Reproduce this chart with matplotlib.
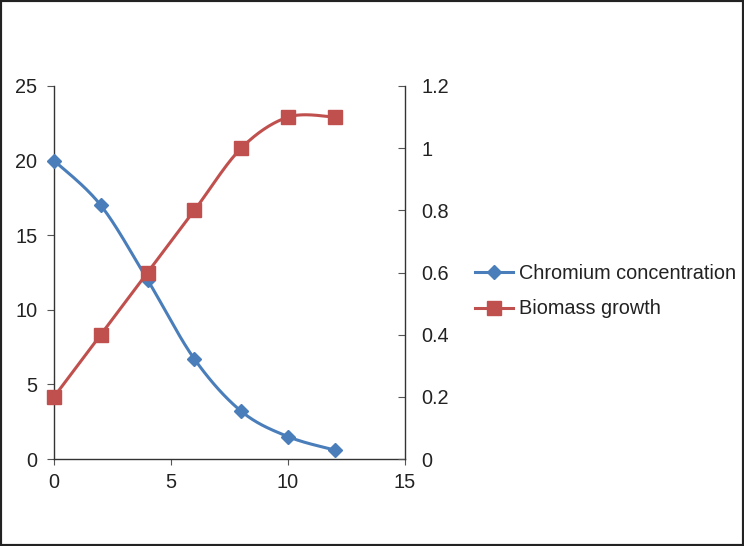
import numpy as np
import matplotlib
matplotlib.use("Agg")
import matplotlib.pyplot as plt
from matplotlib.patches import Rectangle

plt.rcParams['font.family'] = ['Liberation Sans', 'DejaVu Sans']

time = [0, 2, 4, 6, 8, 10, 12]
chromium = [20, 17, 12, 6.7, 3.2, 1.5, 0.6]
biomass = [0.2, 0.4, 0.6, 0.8, 1.0, 1.1, 1.1]
x_ticks = [0, 5, 10, 15]
left_ticks = [0, 5, 10, 15, 20, 25]
right_ticks = [0, 0.2, 0.4, 0.6, 0.8, 1, 1.2]
right_labels = ['0', '0.2', '0.4', '0.6', '0.8', '1', '1.2']
labels = ['Chromium concentration', 'Biomass growth']

BLUE = '#4A7EBB'
RED = '#C0504D'
FS = 14.3


def smooth(x, y, n=30):
    # Catmull-Rom style smoothing (as in spreadsheet "smoothed line")
    x = np.asarray(x, float)
    y = np.asarray(y, float)
    px = np.concatenate([[x[0]], x, [x[-1]]])
    py = np.concatenate([[y[0]], y, [y[-1]]])
    xs, ys = [], []
    for i in range(1, len(px) - 2):
        p0 = np.array([px[i - 1], py[i - 1]])
        p1 = np.array([px[i], py[i]])
        p2 = np.array([px[i + 1], py[i + 1]])
        p3 = np.array([px[i + 2], py[i + 2]])
        c1 = p1 + (p2 - p0) / 6
        c2 = p2 - (p3 - p1) / 6
        t = np.linspace(0, 1, n)[:, None]
        pts = ((1 - t) ** 3) * p1 + 3 * ((1 - t) ** 2) * t * c1 + 3 * (1 - t) * t ** 2 * c2 + t ** 3 * p2
        xs.extend(pts[:, 0])
        ys.extend(pts[:, 1])
    return np.array(xs), np.array(ys)


fig = plt.figure(figsize=(7.44, 5.46), dpi=100)
ax = fig.add_axes([0.0726, 0.1593, 0.4718, 0.6832])
ax2 = ax.twinx()

sx, sy = smooth(time, chromium)
ax.plot(sx, sy, color=BLUE, lw=2.2, zorder=3, clip_on=False)
ax.plot(time, chromium, linestyle='none', marker='D', ms=7.5, color=BLUE, zorder=4, clip_on=False)

bx, by = smooth(time, biomass)
ax2.plot(bx, by, color=RED, lw=2.2, zorder=3, clip_on=False)
ax2.plot(time, biomass, linestyle='none', marker='s', ms=10, color=RED, zorder=4, clip_on=False)

ax.set_xlim(0, 15)
ax.set_ylim(0, 25)
ax2.set_ylim(0, 1.2)
ax.set_xticks(x_ticks)
ax.set_yticks(left_ticks)
ax2.set_yticks(right_ticks)
ax2.set_yticklabels(right_labels)

for a in (ax, ax2):
    a.spines['top'].set_visible(False)
    for s in a.spines.values():
        s.set_color('#333333')
        s.set_linewidth(1.0)
ax.spines['right'].set_visible(False)
ax2.spines['left'].set_visible(False)
ax2.spines['bottom'].set_visible(False)

ax.tick_params(axis='y', direction='out', length=5, width=0.8, color='#555555', pad=7, labelsize=FS, labelcolor='#222222')
ax.tick_params(axis='x', direction='out', length=4, width=0.8, color='#555555', pad=6, labelsize=FS, labelcolor='#222222')
ax2.tick_params(axis='y', direction='in', length=5, width=0.8, color='#555555', pad=12, labelsize=FS, labelcolor='#222222')

h1, = ax.plot([], [], color=BLUE, lw=2.2, marker='D', ms=7.5)
h2, = ax.plot([], [], color=RED, lw=2.2, marker='s', ms=10)
fig.legend([h1, h2], labels, loc='center left', bbox_to_anchor=(0.639, 0.467),
           frameon=False, fontsize=FS, handlelength=1.9, handletextpad=0.3,
           labelspacing=0.85, borderaxespad=0, borderpad=0, labelcolor='#222222')

fig.patches.append(Rectangle((0, 0), 1, 1, transform=fig.transFigure, fill=False,
                             edgecolor='#222222', linewidth=3))

fig.savefig('out.png', dpi=100)
